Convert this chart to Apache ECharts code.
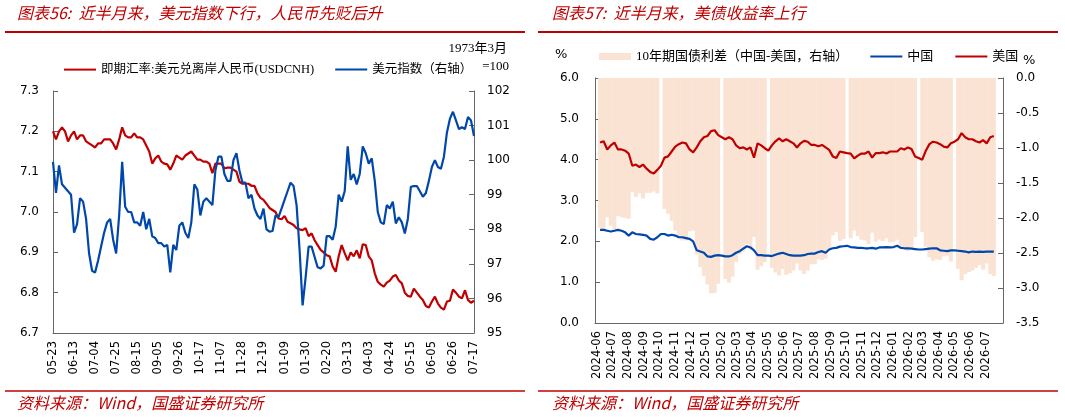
<!DOCTYPE html>
<html>
<head>
<meta charset="utf-8">
<title>汇率与中美国债</title>
<script src="https://cdn.jsdelivr.net/npm/echarts@6/dist/echarts.min.js"></script>
<style>
    html, body { margin: 0; padding: 0; background: #fff; }
    #container { width: 1065px; height: 417px; }
</style>
</head>
<body>
<div id="container"></div>
<script>
// 左图：每3天一个点，2025-05-23 起
var fxStart = [2025, 4, 23];
var fxStep = 3;
var usdcnh = [
    7.20, 7.18, 7.20, 7.21, 7.20, 7.175, 7.19, 7.20, 7.18, 7.19,
    7.19, 7.175, 7.17, 7.165, 7.16, 7.17, 7.17, 7.18, 7.18, 7.18,
    7.17, 7.155, 7.18, 7.21, 7.19, 7.185, 7.185, 7.195, 7.185, 7.185,
    7.18, 7.165, 7.15, 7.12, 7.133, 7.14, 7.125, 7.12, 7.118, 7.105,
    7.12, 7.14, 7.135, 7.13, 7.14, 7.145, 7.15, 7.14, 7.13, 7.13,
    7.125, 7.125, 7.12, 7.096, 7.12, 7.12, 7.12, 7.108, 7.11, 7.11,
    7.105, 7.10, 7.075, 7.07, 7.07, 7.07, 7.065, 7.065, 7.046, 7.035,
    7.03, 7.02, 7.01, 7.005, 7.0, 6.984, 6.982, 6.99, 6.976, 6.972,
    6.968, 6.96, 6.957, 6.955, 6.96, 6.94, 6.947, 6.93, 6.918, 6.906,
    6.90, 6.893, 6.89, 6.865, 6.852, 6.89, 6.918, 6.898, 6.88, 6.90,
    6.89, 6.905, 6.885, 6.92, 6.918, 6.89, 6.88, 6.848, 6.827, 6.82,
    6.815, 6.825, 6.83, 6.84, 6.844, 6.83, 6.823, 6.80, 6.792, 6.79,
    6.81, 6.80, 6.79, 6.782, 6.767, 6.763, 6.778, 6.79, 6.773, 6.763,
    6.758, 6.778, 6.78, 6.808, 6.80, 6.79, 6.786, 6.806, 6.782, 6.775,
    6.78
];
var dxy = [
    99.95, 99.05, 99.85, 99.3, 99.2, 99.1, 99.0, 97.9, 98.15, 98.9,
    98.8, 98.3, 97.3, 96.8, 96.75, 97.1, 97.5, 97.9, 98.2, 98.3,
    97.7, 97.3, 98.4, 99.95, 98.65, 98.5, 98.5, 98.2, 98.2, 98.1,
    98.5, 98.0, 98.3, 97.8, 97.75, 97.6, 97.6, 97.5, 97.55, 96.75,
    97.55, 97.4, 98.1, 98.2, 97.9, 97.75, 98.2, 99.3, 99.15, 98.4,
    98.8, 98.9, 98.8, 98.7, 99.7, 100.1, 100.1, 99.6, 99.4, 99.4,
    100.0, 100.2, 99.7, 99.35, 99.35, 98.9, 99.0, 98.6, 98.4, 98.3,
    98.6, 98.0, 97.93, 97.95, 98.4, 98.35, 98.6, 98.85, 99.1, 99.35,
    99.25, 98.7, 97.4, 95.8, 96.6, 97.5, 97.5, 97.2, 96.9, 96.87,
    96.95, 97.8, 97.8, 97.7, 98.07, 99.0, 98.8, 99.1, 100.4, 99.43,
    99.6, 99.3, 99.6, 100.4, 100.2, 99.9, 100.05, 99.4, 98.5, 98.2,
    98.15, 98.7, 98.6, 98.8, 98.17, 98.35, 98.2, 97.88, 98.3, 99.23,
    99.25, 99.25, 99.1, 98.94, 99.05, 99.4, 99.8, 100.0, 99.8, 99.75,
    100.1, 100.8, 101.2, 101.4, 101.15, 100.9, 100.95, 100.9, 101.25, 101.15,
    100.7
];

// 右图：周度（周五），2024-06-07 起
var bondStart = [2024, 5, 7];
var cnYield = [
    2.28, 2.28, 2.26, 2.24, 2.26, 2.28, 2.26, 2.22, 2.14, 2.22,
    2.18, 2.17, 2.16, 2.14, 2.06, 2.04, 2.10, 2.18, 2.18, 2.14,
    2.16, 2.14, 2.10, 2.10, 2.08, 2.06, 2.00, 1.78, 1.75, 1.72,
    1.63, 1.62, 1.65, 1.66, 1.65, 1.63, 1.63, 1.66, 1.72, 1.76,
    1.82, 1.88, 1.85, 1.78, 1.66, 1.66, 1.65, 1.65, 1.64, 1.67,
    1.70, 1.72, 1.69, 1.66, 1.65, 1.65, 1.65, 1.66, 1.69, 1.70,
    1.70, 1.74, 1.76, 1.72, 1.80, 1.83, 1.84, 1.87, 1.88, 1.89,
    1.86, 1.85, 1.84, 1.84, 1.83, 1.83, 1.84, 1.82, 1.85, 1.85,
    1.86, 1.85, 1.86, 1.89, 1.84, 1.83, 1.83, 1.82, 1.81, 1.80,
    1.80, 1.81, 1.82, 1.83, 1.83, 1.78, 1.77, 1.76, 1.78, 1.78,
    1.77, 1.76, 1.75, 1.73, 1.75, 1.74, 1.75, 1.74, 1.75, 1.75,
    1.75
];
var usYield = [
    4.42, 4.45, 4.25, 4.35, 4.42, 4.25, 4.25, 4.22, 4.15, 3.85,
    3.88, 3.82, 3.88, 3.78, 3.70, 3.66, 3.75, 3.85, 4.05, 4.08,
    4.20, 4.32, 4.38, 4.42, 4.40, 4.25, 4.18, 4.30, 4.45, 4.55,
    4.58, 4.70, 4.72, 4.60, 4.55, 4.50, 4.55, 4.50, 4.35, 4.28,
    4.30, 4.25, 4.30, 4.05, 4.40, 4.35, 4.28, 4.22, 4.35, 4.45,
    4.52, 4.45, 4.50, 4.45, 4.40, 4.30, 4.40, 4.46, 4.44, 4.36,
    4.36, 4.33, 4.36, 4.30, 4.24, 4.08, 4.04, 4.20, 4.18, 4.16,
    4.15, 4.03, 4.10, 4.15, 4.15, 4.20, 4.05, 4.16, 4.16, 4.18,
    4.15, 4.20, 4.20, 4.20, 4.28, 4.25, 4.30, 4.26, 4.08, 4.04,
    4.00, 4.22, 4.38, 4.44, 4.42, 4.38, 4.32, 4.30, 4.40, 4.44,
    4.50, 4.65, 4.55, 4.50, 4.50, 4.45, 4.42, 4.48, 4.40, 4.55,
    4.58
];
// 中国-美国，节假日缺值
var spread = [
    -2.14, -2.17, -1.99, -2.11, -2.16, -1.97, -1.99, -2.00, -2.01, -1.63,
    -1.70, -1.65, -1.72, -1.64, -1.64, -1.62, -1.65, null, -1.87, -1.94,
    -2.04, -2.18, -2.28, -2.32, -2.32, -2.19, -2.18, -2.52, -2.70, -2.83,
    -2.95, -3.08, -3.07, -2.94, null, -2.87, -2.92, -2.84, -2.63, -2.52,
    -2.48, -2.37, -2.45, -2.27, -2.74, -2.69, -2.63, null, -2.71, -2.78,
    -2.82, -2.73, -2.81, -2.79, -2.75, -2.65, -2.75, -2.80, -2.75, -2.66,
    -2.66, -2.59, -2.60, -2.58, -2.44, -2.25, -2.20, -2.33, -2.30, null,
    -2.29, -2.18, -2.26, -2.31, -2.32, -2.37, -2.21, -2.34, -2.31, -2.33,
    -2.29, -2.35, -2.34, -2.31, -2.44, -2.42, -2.47, -2.44, -2.27, null,
    -2.20, -2.41, -2.56, -2.61, -2.59, -2.60, -2.55, -2.54, -2.62, null,
    -2.73, -2.89, -2.80, -2.77, -2.75, -2.71, -2.67, -2.74, -2.65, -2.80,
    -2.83
];

var RED = '#C00000';
var BLUE = '#0047AB';
var PEACH = '#FBE3D3';
var DAY = 24 * 3600 * 1000;

function pad(n) { return n < 10 ? '0' + n : '' + n; }

var fxDates = [];
for (var i = 0; i < usdcnh.length; i++) {
    var d = new Date(fxStart[0], fxStart[1], fxStart[2] + i * fxStep);
    fxDates.push(d.getFullYear() + '-' + pad(d.getMonth() + 1) + '-' + pad(d.getDate()));
}
var bondTimes = [];
for (var k = 0; k < cnYield.length; k++) {
    bondTimes.push(new Date(bondStart[0], bondStart[1], bondStart[2] + k * 7).getTime());
}
function pairs(arr) {
    return arr.map(function (v, k) { return [bondTimes[k], v]; });
}
var lastMonth = new Date(2026, 6, 15).getTime();

var axisFont = { fontFamily: 'DejaVu Sans', fontSize: 12, color: '#000' };
var axisLine = { show: true, lineStyle: { color: '#666', width: 1 } };
var inTick = { show: true, inside: true, length: 5, lineStyle: { color: '#666' } };
var legendText = { fontFamily: '"Liberation Serif", "Noto Sans CJK SC"', fontSize: 12.5, color: '#000' };
var noDot = { opacity: 0 };

var chart = echarts.init(document.getElementById('container'));

var option = {
    animation: false,
    backgroundColor: '#fff',
    grid: [
        { left: 53, top: 91, width: 421, height: 242 },
        { left: 595, top: 78, width: 408, height: 245 }
    ],
    legend: [
        {
            data: [
                { name: '即期汇率:美元兑离岸人民币(USDCNH)', itemStyle: noDot },
                { name: '美元指数（右轴）', itemStyle: noDot }
            ],
            left: 58, top: 58, itemWidth: 32, itemHeight: 14, itemGap: 20,
            textStyle: legendText
        },
        {
            data: [
                { name: '10年期国债利差（中国-美国，右轴）', icon: 'rect' },
                { name: '中国', itemStyle: noDot },
                { name: '美国', itemStyle: noDot }
            ],
            left: 594, top: 45, itemWidth: 32, itemHeight: 7, itemGap: 21,
            textStyle: { fontFamily: '"Liberation Serif", "Noto Sans CJK SC"', fontSize: 13, color: '#000' }
        }
    ],
    xAxis: [
        {
            type: 'category', gridIndex: 0, data: fxDates, boundaryGap: false,
            axisLine: axisLine, axisTick: { show: false },
            axisLabel: {
                interval: 6, rotate: 90, margin: 8, fontSize: 11.5, fontFamily: 'DejaVu Sans', color: '#000',
                formatter: function (v) { return v.slice(5); }
            },
            splitLine: { show: false }
        },
        {
            type: 'time', gridIndex: 1,
            min: new Date(2024, 5, 1).getTime(), max: new Date(2026, 6, 31).getTime(),
            splitNumber: 26, minInterval: 28 * DAY, maxInterval: 31 * DAY,
            axisLine: axisLine, axisTick: { show: false },
            axisLabel: {
                rotate: 90, margin: 8, fontSize: 11.5, fontFamily: 'DejaVu Sans', color: '#000',
                formatter: function (v) {
                    if (v > lastMonth) return '';
                    var d = new Date(v);
                    return d.getFullYear() + '-' + pad(d.getMonth() + 1);
                }
            },
            splitLine: { show: false }
        }
    ],
    yAxis: [
        {
            type: 'value', gridIndex: 0, min: 6.7, max: 7.3, interval: 0.1,
            axisLine: axisLine, axisTick: inTick, splitLine: { show: false },
            axisLabel: Object.assign({ margin: 14, formatter: function (v) { return v.toFixed(1); } }, axisFont)
        },
        {
            type: 'value', gridIndex: 0, position: 'right', min: 95, max: 102, interval: 1,
            axisLine: axisLine, axisTick: inTick, splitLine: { show: false },
            axisLabel: Object.assign({ margin: 13 }, axisFont)
        },
        {
            type: 'value', gridIndex: 1, min: 0, max: 6, interval: 1,
            axisLine: axisLine, axisTick: inTick, splitLine: { show: false },
            axisLabel: Object.assign({ margin: 16, formatter: function (v) { return v.toFixed(1); } }, axisFont)
        },
        {
            type: 'value', gridIndex: 1, position: 'right', min: -3.5, max: 0, interval: 0.5,
            axisLine: axisLine, axisTick: inTick, splitLine: { show: false },
            axisLabel: Object.assign({ margin: 13, formatter: function (v) { return v.toFixed(1); } }, axisFont)
        }
    ],
    series: [
        {
            name: '即期汇率:美元兑离岸人民币(USDCNH)', type: 'line', xAxisIndex: 0, yAxisIndex: 0,
            data: usdcnh, showSymbol: false, color: RED, lineStyle: { color: RED, width: 2.2 }
        },
        {
            name: '美元指数（右轴）', type: 'line', xAxisIndex: 0, yAxisIndex: 1,
            data: dxy, showSymbol: false, color: BLUE, lineStyle: { color: BLUE, width: 2.2 }
        },
        {
            name: '10年期国债利差（中国-美国，右轴）', type: 'bar', xAxisIndex: 1, yAxisIndex: 3,
            data: pairs(spread), barWidth: 4, color: PEACH, itemStyle: { color: PEACH }
        },
        {
            name: '中国', type: 'line', xAxisIndex: 1, yAxisIndex: 2,
            data: pairs(cnYield), showSymbol: false, color: BLUE, lineStyle: { color: BLUE, width: 2.2 }
        },
        {
            name: '美国', type: 'line', xAxisIndex: 1, yAxisIndex: 2,
            data: pairs(usYield), showSymbol: false, color: RED, lineStyle: { color: RED, width: 2.2 }
        }
    ],
    graphic: [
        { type: 'text', left: 17, top: 5, style: { text: '图表56:  近半月来，美元指数下行，人民币先贬后升', font: 'italic 16px "Noto Sans CJK SC"', fill: RED } },
        { type: 'text', left: 552, top: 5, style: { text: '图表57:  近半月来，美债收益率上行', font: 'italic 16px "Noto Sans CJK SC"', fill: RED } },
        { type: 'line', shape: { x1: 5, y1: 32, x2: 525, y2: 32 }, style: { stroke: RED, lineWidth: 2 } },
        { type: 'line', shape: { x1: 538, y1: 32, x2: 1058, y2: 32 }, style: { stroke: RED, lineWidth: 2 } },
        { type: 'line', shape: { x1: 5, y1: 391, x2: 525, y2: 391 }, style: { stroke: RED, lineWidth: 1.5 } },
        { type: 'line', shape: { x1: 538, y1: 391, x2: 1058, y2: 391 }, style: { stroke: RED, lineWidth: 1.5 } },
        { type: 'text', left: 17, top: 395, style: { text: '资料来源：Wind，国盛证券研究所', font: 'italic 16px "Noto Sans CJK SC"', fill: RED } },
        { type: 'text', left: 552, top: 395, style: { text: '资料来源：Wind，国盛证券研究所', font: 'italic 16px "Noto Sans CJK SC"', fill: RED } },
        { type: 'text', right: 558, top: 42, style: { text: '1973年3月', font: '13px "Liberation Serif", "Noto Sans CJK SC"', fill: '#000' } },
        { type: 'text', right: 556, top: 60, style: { text: '=100', font: '13px "Liberation Serif", "Noto Sans CJK SC"', fill: '#000' } },
        { type: 'text', left: 555, top: 48, style: { text: '%', font: '13px "DejaVu Sans"', fill: '#000' } },
        { type: 'text', left: 1023, top: 54, style: { text: '%', font: '13px "DejaVu Sans"', fill: '#000' } }
    ]
};

chart.setOption(option);
</script>
</body>
</html>
